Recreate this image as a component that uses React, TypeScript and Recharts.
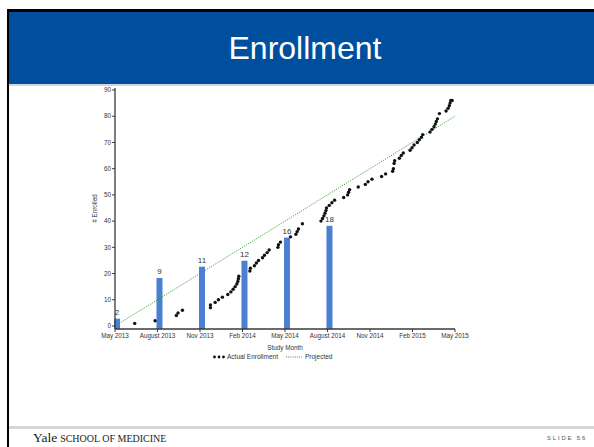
import { Bar, ComposedChart, LabelList, Legend, Line, Scatter, XAxis, YAxis } from "recharts"

// quarterly bars (height as drawn) and the counts printed above them
const quarterMonths = [0, 3, 6, 9, 12, 15]
const quarterHeights = [2.8, 18.3, 22.6, 24.9, 33.7, 38.2]
const quarterLabels = ["2", "9", "11", "12", "16", "18"]

// cumulative enrollment, months since May 2013
const actualMonths = [
  1.39, 2.83, 4.33, 4.45, 4.76, 6.74, 6.74, 7.07, 7.3, 7.58, 7.96, 8.18, 8.34, 8.48, 8.6, 8.67, 8.71, 8.74,
  9.52, 9.56, 9.84, 9.98, 10.13, 10.41, 10.55, 10.74, 10.88, 11.5, 11.54, 11.68, 12.39, 12.77, 12.86, 12.95,
  13.23, 14.54, 14.65, 14.75, 14.82, 14.89, 14.93, 15.12, 15.31, 15.5, 16.14, 16.42, 16.49, 16.56, 17.17,
  17.67, 17.86, 18.14, 18.82, 19.1, 19.6, 19.65, 19.7, 19.74, 20.07, 20.21, 20.35, 20.83, 20.97, 21.11,
  21.34, 21.48, 21.63, 21.72, 22.24, 22.38, 22.52, 22.61, 22.68, 22.76, 22.9, 23.37, 23.51, 23.6, 23.65,
  23.7, 23.8,
]
const actualEnrolled = [
  1, 2, 4, 5, 6, 7, 8, 9, 10, 11, 12, 13, 14, 15, 16, 17, 18, 19,
  21, 22, 23, 24, 25, 26, 27, 28, 29, 30, 31, 32, 34, 35, 36, 37,
  39, 40, 41, 42, 43, 44, 45, 46, 47, 48, 49, 50, 51, 52, 53,
  54, 55, 56, 57, 58, 59, 60, 62, 63, 64, 65, 66, 67, 68, 69,
  70, 71, 72, 73, 74, 75, 76, 77, 78, 79, 81, 82, 83, 84, 85,
  86, 86,
]

const projectedMonths = [0, 24]
const projectedEnrolled = [0, 80]

const tickMonths = [0, 3, 6, 9, 12, 15, 18, 21, 24]
const tickLabels = [
  "May 2013", "August 2013", "Nov 2013", "Feb 2014", "May 2014",
  "August 2014", "Nov 2014", "Feb 2015", "May 2015",
]
const yTicks = [0, 10, 20, 30, 40, 50, 60, 70, 80, 90]

const barData = quarterMonths.map((m, i) => ({ m, h: quarterHeights[i], label: quarterLabels[i] }))
const actualData = actualMonths.map((m, i) => ({ m, v: actualEnrolled[i] }))
const projectedData = projectedMonths.map((m, i) => ({ m, p: projectedEnrolled[i] }))

const FONT = "'Liberation Sans', Arial, sans-serif"
const AXIS = "#3a3a3a"
const BLUE_BAR = "#4a80d2"
const GREEN = "#2a9a2a"
const BAR_W = 6

// bars sit just right of their tick, and run down to the axis line
const ShiftedBar = (props: any) => {
  const { x, y, width, height } = props
  const cx = x + width / 2
  return <rect x={cx - 1} y={y} width={BAR_W} height={height + 3} fill={BLUE_BAR} />
}

const BarLabel = (props: any) => {
  const { x, y, width, value } = props
  return (
    <text x={x + width / 2 + 2} y={y - 4} textAnchor="middle" fontSize={8} fill="#333" fontFamily={FONT}>
      {value}
    </text>
  )
}

const Dot = (props: any) => <circle cx={props.cx} cy={props.cy} r={1.7} fill="#111" />

const LegendBox = () => (
  <div style={{ display: "flex", alignItems: "center", fontFamily: FONT, fontSize: 6.5, color: "#333" }}>
    <svg width={12} height={6}>
      <circle cx={1.5} cy={3} r={1.4} fill="#111" />
      <circle cx={6} cy={3} r={1.4} fill="#111" />
      <circle cx={10.5} cy={3} r={1.4} fill="#111" />
    </svg>
    <span style={{ marginLeft: 2 }}>Actual Enrollment</span>
    <svg width={18} height={6} style={{ marginLeft: 8 }}>
      <line x1={0} y1={3} x2={16} y2={3} stroke={GREEN} strokeWidth={1} strokeDasharray="1 1.2" />
    </svg>
    <span style={{ marginLeft: 1 }}>Projected</span>
  </div>
)

export default function App() {
  return (
    <div style={{ position: "absolute", left: 0, top: 0, width: 594, height: 447, background: "#fff", overflow: "hidden" }}>
      {/* slide frame */}
      <div style={{ position: "absolute", left: 7, top: 9, width: 587, height: 3, background: "#000" }} />
      <div style={{ position: "absolute", left: 7, top: 9, width: 2, height: 438, background: "#000" }} />
      <div style={{ position: "absolute", left: 9, top: 12, width: 585, height: 72, background: "#004f9f" }} />
      <div style={{ position: "absolute", left: 9, top: 84, width: 585, height: 2, background: "#d6d6d6" }} />
      <div
        style={{
          position: "absolute", left: 9, top: 30, width: 592, textAlign: "center",
          fontFamily: FONT, fontSize: 32, color: "#fff", lineHeight: "36px",
        }}
      >
        Enrollment
      </div>
      <div style={{ position: "absolute", left: 9, top: 426, width: 585, height: 3, background: "#d6d6d6" }} />
      <div
        style={{
          position: "absolute", left: 33, top: 430, fontFamily: "'Liberation Serif', 'DejaVu Serif', serif",
          color: "#222", whiteSpace: "nowrap", lineHeight: "14px",
        }}
      >
        <span style={{ fontSize: 13.5 }}>Yale</span>
        <span style={{ fontSize: 10, marginLeft: 3 }}>SCHOOL OF MEDICINE</span>
      </div>
      <div
        style={{
          position: "absolute", left: 547, top: 435, fontFamily: FONT, fontSize: 6,
          letterSpacing: 1.8, color: "#555", whiteSpace: "nowrap",
        }}
      >
        SLIDE 56
      </div>

      <div style={{ position: "absolute", left: 0, top: 0 }}>
        <ComposedChart
          width={594}
          height={447}
          data={barData}
          margin={{ top: 88, right: 139, bottom: 96, left: 95 }}
        >
          <XAxis
            xAxisId="main"
            dataKey="m"
            type="number"
            domain={[0, 24]}
            ticks={tickMonths}
            tickFormatter={(v: number) => tickLabels[tickMonths.indexOf(v)]}
            interval={0}
            height={22}
            tickSize={3}
            tickMargin={2}
            tick={{ fontSize: 6.3, fill: "#333", fontFamily: FONT }}
            stroke={AXIS}
            axisLine={{ stroke: AXIS, strokeWidth: 1.3 }}
            label={{ value: "Study Month", position: "insideBottom", offset: 1, fontSize: 6.3, fill: "#333", fontFamily: FONT }}
          />
          <XAxis xAxisId="top" orientation="top" type="number" domain={[0, 24]} dataKey="m" height={0} tick={false} tickLine={false} axisLine={{ stroke: AXIS, strokeWidth: 1.3 }} />
          <YAxis
            yAxisId="main"
            type="number"
            domain={[0, 90]}
            ticks={yTicks}
            interval={0}
            width={20}
            padding={{ top: 2, bottom: 3 }}
            tickSize={3}
            tickMargin={1}
            tick={{ fontSize: 6.3, fill: "#333", fontFamily: FONT }}
            stroke={AXIS}
            axisLine={{ stroke: AXIS, strokeWidth: 1.3 }}
            label={{
              value: "# Enrolled", angle: -90, position: "insideLeft", offset: 0,
              fontSize: 6.3, fill: "#333", fontFamily: FONT, style: { textAnchor: "middle" },
            }}
          />
          <YAxis yAxisId="right" orientation="right" type="number" domain={[0, 90]} width={0} tick={false} tickLine={false} axisLine={{ stroke: AXIS, strokeWidth: 1.3 }} />
          <Bar xAxisId="main" yAxisId="main" dataKey="h" barSize={BAR_W} shape={ShiftedBar} isAnimationActive={false}>
            <LabelList dataKey="label" content={BarLabel} />
          </Bar>
          <Line
            xAxisId="main"
            yAxisId="main"
            data={projectedData}
            dataKey="p"
            stroke={GREEN}
            strokeWidth={1}
            strokeDasharray="1 1.3"
            dot={false}
            activeDot={false}
            isAnimationActive={false}
          />
          <Scatter xAxisId="main" yAxisId="main" data={actualData} dataKey="v" shape={Dot} isAnimationActive={false} />
          <Legend
            layout="horizontal"
            verticalAlign="middle"
            align="center"
            content={LegendBox}
            wrapperStyle={{ left: 213, top: 353, width: "auto" }}
          />
        </ComposedChart>
      </div>
    </div>
  )
}
